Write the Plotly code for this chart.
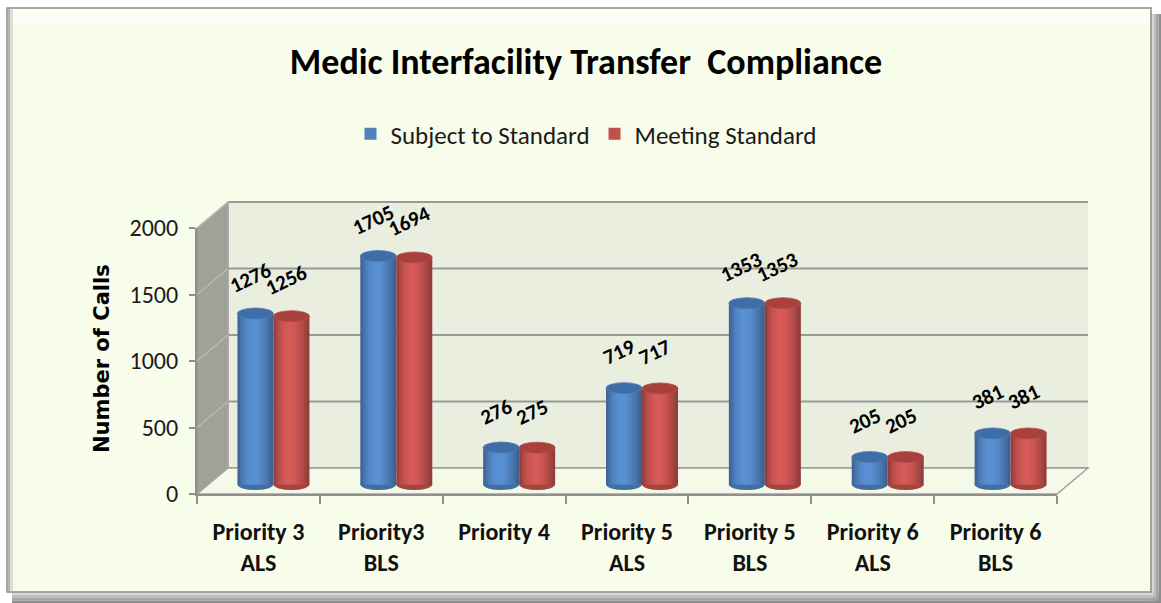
import plotly.graph_objects as go
import numpy as np

# ---------------- data ----------------
categories = ["Priority 3<br>ALS", "Priority3<br>BLS", "Priority 4", "Priority 5<br>ALS",
              "Priority 5<br>BLS", "Priority 6<br>ALS", "Priority 6<br>BLS"]
subject_to_standard = [1276, 1705, 276, 719, 1353, 205, 381]
meeting_standard = [1256, 1694, 275, 717, 1353, 205, 381]
series_names = ["Subject to Standard", "Meeting Standard"]
y_ticks = [0, 500, 1000, 1500, 2000]

# ---------------- styling / geometry ----------------
W, H = 1161, 603
FONT = "Carlito, Calibri, Lato, 'Open Sans', sans-serif"
BG = "#F8FCEA"
WALL = "#E9EEDF"
SIDE = "#A0A299"
FLOOR = "#F5F9E8"
GRID = "#999999"
BASE_COLORS = [(79, 129, 189), (192, 80, 77)]
TOP_COLORS = ["#3F6DA8", "#A8413E"]

FRONT_X0, FRONT_X1 = 197, 1057
FRONT_Y0, FRONT_Y2000 = 494, 228
DDX, DDY = 31, -26
BAR_X0, BAR_X1 = 212, 1072
BAR_ZERO, BAR_SCALE = 484.5, 0.134
Y2_RANGE = [-100, 2100]
BW = 0.293          # bar width in category units
E = 41              # half height of cylinder cap ellipse, in value units
NSTRIPE = 14


def px(x):
    return x / W


def py(y):
    return 1 - y / H


def y_front(v):
    return FRONT_Y0 - (FRONT_Y0 - FRONT_Y2000) * v / 2000.0


def y_back(v):
    return y_front(v) + DDY


def shade(t):
    return 0.72 + 0.40 * np.sin(np.pi * t ** 0.85)


def rgb(c, f):
    return "rgb({},{},{})".format(*[int(max(0, min(255, round(ch * f)))) for ch in c])


idx = list(range(len(categories)))
series_vals = [subject_to_standard, meeting_standard]

fig = go.Figure()

# invisible trace to populate the front category axis
fig.add_trace(go.Scatter(x=categories, y=subject_to_standard, mode="markers",
                         marker=dict(opacity=0), showlegend=False, hoverinfo="skip",
                         xaxis="x", yaxis="y"))

# cylinders: shaded vertical stripes (overlapping so no seams)
sw = BW / NSTRIPE
for s, vals in enumerate(series_vals):
    off_c = (-0.5 + s) * BW
    for k in range(NSTRIPE):
        t = (k + 0.5) / NSTRIPE
        fig.add_trace(go.Bar(
            x=idx, y=vals, width=min(1.7 * sw, BW - k * sw),
            offset=off_c - BW / 2 + k * sw,
            marker=dict(color=rgb(BASE_COLORS[s], shade(t)), line=dict(width=0)),
            showlegend=False, hoverinfo="skip", xaxis="x2", yaxis="y2"))

# legend entries
for s, name in enumerate(series_names):
    fig.add_trace(go.Bar(x=[None], y=[None], name=name,
                         marker=dict(color=rgb(BASE_COLORS[s], 1.0), line=dict(width=0)),
                         xaxis="x2", yaxis="y2"))

shapes = []
# frame shadow
for i, col in enumerate(["#D8D8D8", "#BDBDBD", "#A4A4A4", "#8E8E8E"]):
    shapes.append(dict(type="rect", xref="paper", yref="paper", layer="below",
                       x0=px(1151 + i * 2.5), x1=px(1151 + (i + 1) * 2.5), y0=py(14), y1=py(603),
                       fillcolor=col, line=dict(width=0)))
    shapes.append(dict(type="rect", xref="paper", yref="paper", layer="below",
                       x0=px(12), x1=px(1161), y0=py(592 + i * 2.8), y1=py(592 + (i + 1) * 2.8),
                       fillcolor=col, line=dict(width=0)))
# frame
shapes.append(dict(type="rect", xref="paper", yref="paper", layer="below",
                   x0=px(7), x1=px(1151), y0=py(8), y1=py(592),
                   fillcolor=BG, line=dict(color="#8A8A8A", width=1.5)))
shapes.append(dict(type="rect", xref="paper", yref="paper", layer="below",
                   x0=px(8), x1=px(1150), y0=py(9), y1=py(24),
                   fillcolor="#FCFEF5", line=dict(width=0)))
shapes.append(dict(type="rect", xref="paper", yref="paper", layer="below",
                   x0=px(8), x1=px(10), y0=py(9), y1=py(591),
                   fillcolor="#B4B6AC", line=dict(width=0)))
shapes.append(dict(type="rect", xref="paper", yref="paper", layer="below",
                   x0=px(10), x1=px(13), y0=py(9), y1=py(591),
                   fillcolor="#DCDFD2", line=dict(width=0)))

# back wall
bx0, bx1 = FRONT_X0 + DDX, FRONT_X1 + DDX
shapes.append(dict(type="rect", xref="paper", yref="paper", layer="below",
                   x0=px(bx0), x1=px(bx1), y0=py(y_back(0)), y1=py(y_back(2000)),
                   fillcolor=WALL, line=dict(width=0)))
for v in y_ticks:
    shapes.append(dict(type="line", xref="paper", yref="paper", layer="below",
                       x0=px(bx0), x1=px(bx1), y0=py(y_back(v)), y1=py(y_back(v)),
                       line=dict(color=GRID, width=2)))
# side wall
path = "M {},{} L {},{} L {},{} L {},{} Z".format(
    px(FRONT_X0), py(y_front(0)), px(FRONT_X0), py(y_front(2000)),
    px(bx0), py(y_back(2000)), px(bx0), py(y_back(0)))
shapes.append(dict(type="path", path=path, xref="paper", yref="paper", layer="below",
                   fillcolor=SIDE, line=dict(color="#8F918A", width=1)))
for v in y_ticks:
    shapes.append(dict(type="line", xref="paper", yref="paper", layer="below",
                       x0=px(FRONT_X0), x1=px(bx0), y0=py(y_front(v)), y1=py(y_back(v)),
                       line=dict(color="#B9BBB2", width=1.5)))
shapes.append(dict(type="line", xref="paper", yref="paper", layer="below",
                   x0=px(bx0), x1=px(bx0), y0=py(y_back(0)), y1=py(y_back(2000)),
                   line=dict(color="#A8A8A8", width=1.5)))
# floor
path = "M {},{} L {},{} L {},{} L {},{} Z".format(
    px(FRONT_X0), py(y_front(0)), px(bx0), py(y_back(0)),
    px(bx1), py(y_back(0)), px(FRONT_X1), py(y_front(0)))
shapes.append(dict(type="path", path=path, xref="paper", yref="paper", layer="below",
                   fillcolor=FLOOR, line=dict(color="#A0A0A0", width=1.5)))

# cylinder caps + data labels
annotations = []
for s, vals in enumerate(series_vals):
    off_c = (-0.5 + s) * BW
    for i, v in zip(idx, vals):
        shapes.append(dict(type="circle", xref="x2", yref="y2", layer="below",
                           x0=i + off_c - BW / 2, x1=i + off_c + BW / 2, y0=-E, y1=E,
                           fillcolor=rgb(BASE_COLORS[s], 0.85), line=dict(width=0)))
        shapes.append(dict(type="circle", xref="x2", yref="y2", layer="above",
                           x0=i + off_c - BW / 2, x1=i + off_c + BW / 2, y0=v - E, y1=v + E,
                           fillcolor=TOP_COLORS[s], line=dict(color=rgb(BASE_COLORS[s], 0.95), width=0.8)))
        annotations.append(dict(text=str(v), x=i + off_c, y=v, xref="x2", yref="y2",
                                xshift=-5, yshift=36, textangle=-25, showarrow=False,
                                font=dict(family=FONT, size=21, color="#000000", weight="bold")))

annotations.append(dict(text="Number of Calls", x=px(102), y=py(359), xref="paper", yref="paper",
                        textangle=-90, showarrow=False, xanchor="center", yanchor="middle",
                        font=dict(family="'DejaVu Sans', sans-serif", size=21, color="#000000",
                                  weight="bold")))

y2_dom = [py(BAR_ZERO - BAR_SCALE * Y2_RANGE[0]), py(BAR_ZERO - BAR_SCALE * Y2_RANGE[1])]

fig.update_layout(
    width=W, height=H, autosize=False,
    margin=dict(l=0, r=0, t=0, b=0, autoexpand=False),
    paper_bgcolor="white", plot_bgcolor="rgba(0,0,0,0)",
    barmode="overlay",
    title=dict(text="Medic Interfacility Transfer  Compliance", x=px(586), y=py(61),
               xanchor="center", yanchor="middle",
               font=dict(family=FONT, size=36, color="#000000", weight="bold")),
    legend=dict(orientation="h", x=px(586), y=py(134), xanchor="center", yanchor="middle",
                font=dict(family=FONT, size=25, color="#1A1A1A"), bgcolor="rgba(0,0,0,0)"),
    xaxis=dict(domain=[px(FRONT_X0), px(FRONT_X1)], anchor="y", type="category",
               categoryorder="array", categoryarray=categories, range=[-0.5, len(categories) - 0.5],
               tickson="boundaries", ticks="outside", ticklen=8, tickcolor="#8F8F8F", tickwidth=1.5,
               showline=True, linecolor="#8F8F8F", linewidth=2, showgrid=False, zeroline=False,
               tickfont=dict(family=FONT, size=24, color="#111111", weight="bold"),
               ticklabelstandoff=15, automargin=False, fixedrange=True),
    yaxis=dict(domain=[py(FRONT_Y0), py(FRONT_Y2000)], anchor="x", range=[0, 2000],
               tickmode="array", tickvals=y_ticks, ticks="outside", ticklen=6,
               tickcolor="#8F8F8F", tickwidth=1.5, showline=True, linecolor="#8F8F8F", linewidth=2,
               showgrid=False, zeroline=False, ticklabelstandoff=6, automargin=False,
               tickfont=dict(family=FONT, size=24, color="#1A1A1A")),
    xaxis2=dict(domain=[px(BAR_X0), px(BAR_X1)], anchor="y2", range=[-0.5, len(categories) - 0.5],
                visible=False, fixedrange=True, automargin=False),
    yaxis2=dict(domain=y2_dom, anchor="x2", range=Y2_RANGE, visible=False, fixedrange=True,
                automargin=False),
    shapes=shapes,
    annotations=annotations,
)

fig.write_html("out.html", config={"displayModeBar": False},
               post_script="document.body.style.margin='0px';document.body.style.overflow='hidden';")
